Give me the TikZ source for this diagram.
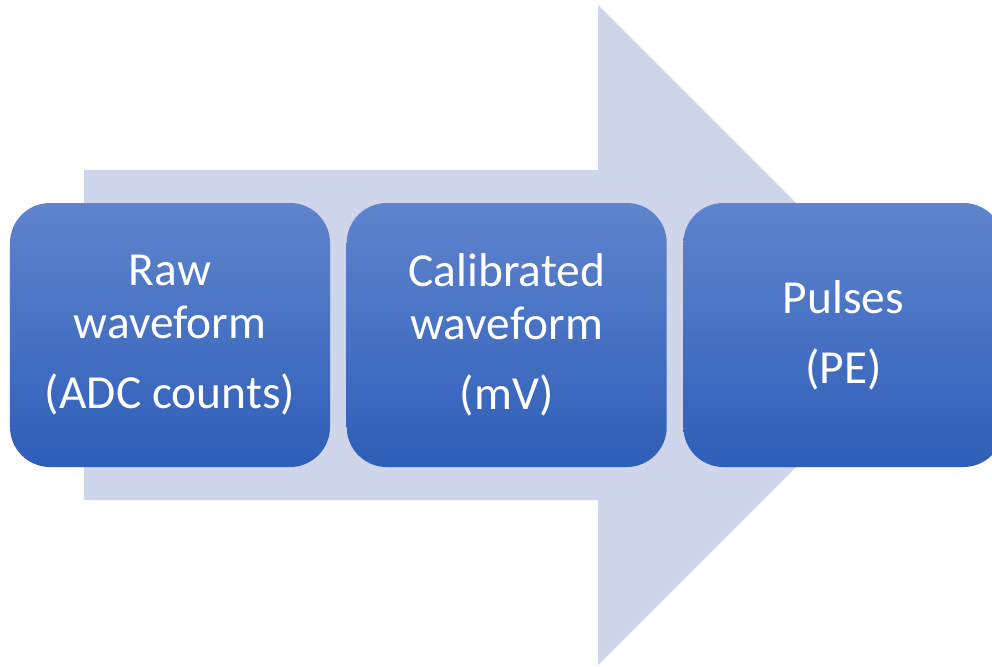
\documentclass[tikz,border=0pt]{standalone}
\usepackage{fontspec}
\setmainfont{Carlito}
\usetikzlibrary{positioning}
\definecolor{cArrow}{HTML}{CFD5EA}
\definecolor{cTop}{HTML}{5F84CD}
\definecolor{cBot}{HTML}{2E5EB9}

\begin{document}
\begin{tikzpicture}[
  x=0.2mm,y=-0.2mm,
  font=\fontsize{27}{30}\selectfont,
  stage/.style={rounded corners=8mm,minimum width=64mm,minimum height=52.8mm,
                top color=cTop,bottom color=cBot,text=white,align=center,
                inner sep=0pt}
]
\useasboundingbox (0,0) rectangle (992,666);
% big background arrow
\fill[cArrow] (84,170) -- (598,170) -- (598,5) -- (928,335)
  -- (598,665) -- (598,500) -- (84,500) -- cycle;

\node[stage] (raw) at (170,335) {Raw\\waveform\\[0.35cm](ADC counts)};
\node[stage,right=3.2mm of raw] (cal) {Calibrated\\waveform\\[0.35cm](mV)};
\node[stage,right=3.2mm of cal] (pls) {Pulses\\[0.35cm](PE)};
\end{tikzpicture}
\end{document}
